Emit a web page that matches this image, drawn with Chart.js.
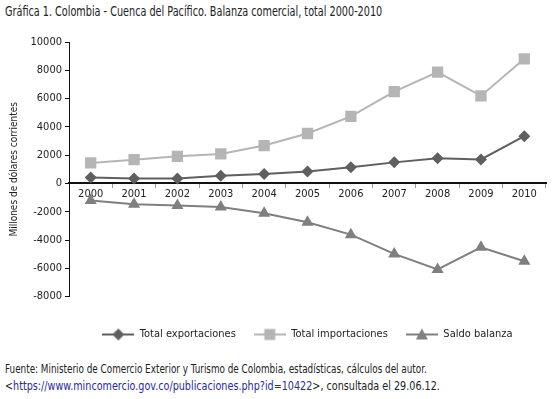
<!DOCTYPE html>
<html>
<head>
<meta charset="utf-8">
<script src="https://cdn.jsdelivr.net/npm/chart.js@4.4.1/dist/chart.umd.min.js"></script>
<style>
  body { margin: 0; background: #fff; width: 554px; height: 399px; overflow: hidden; position: relative;
         font-family: "DejaVu Sans Condensed", "DejaVu Sans", sans-serif; color: #222; }
  .texto { position: absolute; left: 5px; white-space: nowrap; transform-origin: 0 0; }
  #titulo { top: 3px; font-size: 14px; }
  #caja { position: absolute; left: 0; top: 22px; width: 554px; height: 330px; }
  #fuente1 { top: 362px; font-size: 12px; }
  #fuente2 { top: 379px; font-size: 12px; }
  #fuente2 a { color: #2a2a9c; text-decoration: none; }
</style>
</head>
<body>
<div id="titulo" class="texto">Gráfica 1. Colombia - Cuenca del Pacífico. Balanza comercial, total 2000-2010</div>
<div id="caja"><canvas id="grafica"></canvas></div>
<div id="fuente1" class="texto">Fuente: Ministerio de Comercio Exterior y Turismo de Colombia, estadísticas, cálculos del autor.</div>
<div id="fuente2" class="texto">&lt;<a>https://www.mincomercio.gov.co/publicaciones.php?id=10422</a>&gt;, consultada el 29.06.12.</div>
<script>
// Datos (millones de dolares corrientes)
var anios = ["2000", "2001", "2002", "2003", "2004", "2005", "2006", "2007", "2008", "2009", "2010"];
var exportaciones = [420, 350, 350, 540, 660, 850, 1140, 1490, 1780, 1700, 3340];
var importaciones = [1450, 1680, 1920, 2090, 2680, 3530, 4740, 6490, 7870, 6190, 8810];
var saldo = [-1200, -1470, -1560, -1660, -2100, -2740, -3620, -4980, -6080, -4510, -5500];
var ejeY = [-8000, -6000, -4000, -2000, 0, 2000, 4000, 6000, 8000, 10000];

var fuente = '"DejaVu Sans Condensed", "DejaVu Sans", sans-serif';

// la letra del original es muy estrecha: se comprime el texto html al ancho original
function estrechar(id, ancho) {
    var el = document.getElementById(id);
    el.style.transform = "scaleX(" + (ancho / el.offsetWidth) + ")";
}
estrechar("titulo", 377);
estrechar("fuente1", 422);
estrechar("fuente2", 435);

// icono de leyenda: linea con el marcador encima
function icono(color, tipo) {
    var c = document.createElement("canvas");
    c.width = 32; c.height = 16;
    var g = c.getContext("2d");
    g.strokeStyle = color; g.fillStyle = color; g.lineWidth = 2;
    g.beginPath(); g.moveTo(0, 8); g.lineTo(32, 8); g.stroke();
    g.beginPath();
    if (tipo === "rombo") {
        g.moveTo(16, 2); g.lineTo(22, 8); g.lineTo(16, 14); g.lineTo(10, 8);
    } else if (tipo === "cuadro") {
        g.rect(10.5, 2.5, 11, 11);
    } else {
        g.moveTo(16, 2); g.lineTo(22, 13); g.lineTo(10, 13);
    }
    g.closePath(); g.fill();
    return c;
}

var series = [
    { label: "Total exportaciones", data: exportaciones, color: "#5f5f5f", estilo: "rectRot", radio: 6, tipo: "rombo" },
    { label: "Total importaciones", data: importaciones, color: "#b5b5b5", estilo: "rect", radio: 8, tipo: "cuadro" },
    { label: "Saldo balanza", data: saldo, color: "#7f7f7f", estilo: "triangle", radio: 7, tipo: "triangulo" }
];

var ctx = document.getElementById("grafica").getContext("2d");
var chart = new Chart(ctx, {
    type: "line",
    data: {
        labels: anios,
        datasets: series.map(function (s) {
            return {
                label: s.label,
                data: s.data,
                borderColor: s.color,
                backgroundColor: s.color,
                borderWidth: 2,
                pointStyle: s.estilo,
                pointRadius: s.radio,
                pointBorderWidth: 0,
                tension: 0
            };
        })
    },
    options: {
        responsive: true,
        maintainAspectRatio: false,
        animation: false,
        layout: { padding: { left: 0, right: 0, top: 20, bottom: 2 } },
        plugins: {
            tooltip: { enabled: false },
            legend: {
                position: "bottom",
                fullSize: false,
                // titulo vacio solo para dejar aire entre el eje y la leyenda
                title: { display: true, text: " ", padding: 0, font: { size: 12 } },
                labels: {
                    usePointStyle: true,
                    pointStyleWidth: 32,
                    padding: 18,
                    color: "#222",
                    font: { family: fuente, size: 11 },
                    generateLabels: function (chart) {
                        return series.map(function (s, i) {
                            return { text: s.label, pointStyle: icono(s.color, s.tipo), datasetIndex: i,
                                     fillStyle: s.color, strokeStyle: s.color, lineWidth: 0, fontColor: "#222" };
                        });
                    }
                }
            }
        },
        scales: {
            x: {
                type: "category",
                offset: true,
                position: { y: 0 },
                border: { color: "#111", width: 2 },
                grid: { display: true, drawOnChartArea: false, offset: true, tickLength: 4, color: "#999" },
                ticks: { color: "#222", padding: 0, font: { family: fuente, size: 11 }, maxRotation: 0 }
            },
            y: {
                min: -8000,
                max: 10000,
                afterFit: function (scale) { scale.width = 69; },
                afterBuildTicks: function (scale) {
                    scale.ticks = ejeY.map(function (v) { return { value: v }; });
                },
                border: { color: "#111", width: 1 },
                grid: { display: true, drawOnChartArea: false, tickLength: 4, color: "#111" },
                ticks: {
                    color: "#222", padding: 3, font: { family: fuente, size: 11 },
                    callback: function (v) { return String(v); }
                },
                title: {
                    display: true,
                    text: "Millones de dólares corrientes",
                    color: "#222",
                    padding: { top: 8, bottom: 0 },
                    font: { family: fuente, size: 10 }
                }
            }
        }
    }
});
</script>
</body>
</html>
